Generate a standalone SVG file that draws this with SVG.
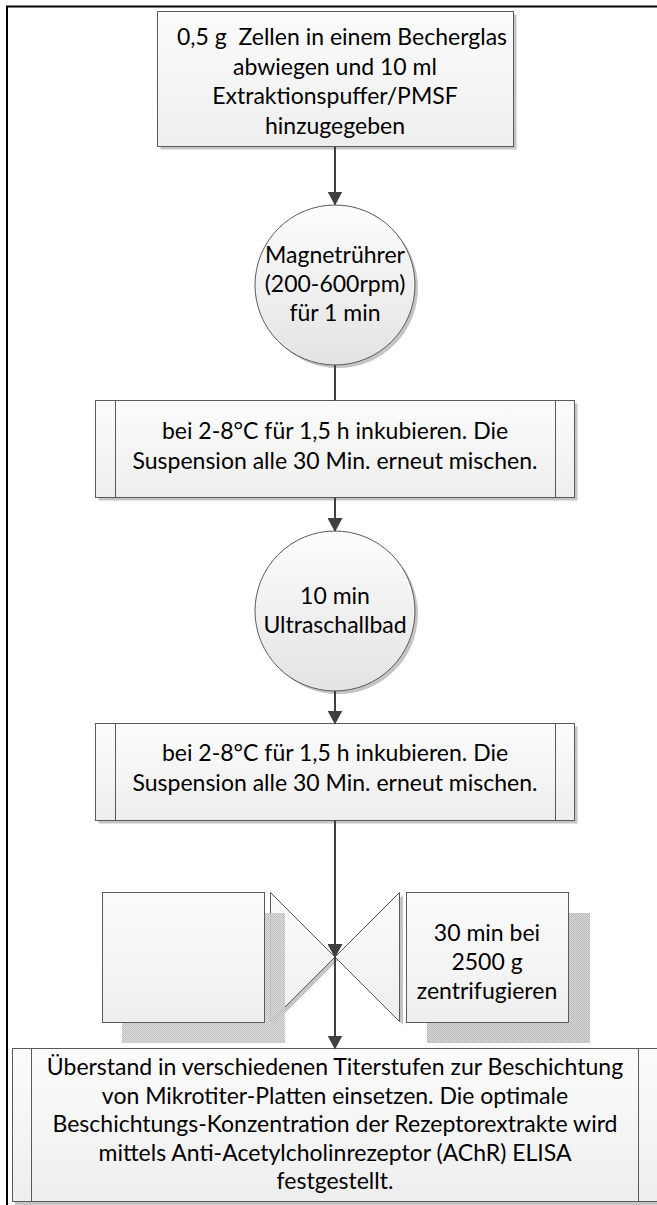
<svg xmlns="http://www.w3.org/2000/svg" width="657" height="1205" viewBox="0 0 657 1205">
<style>
.t{font-family:Lato,"Noto Sans","Liberation Sans",sans-serif;font-size:23px;fill:#000;text-anchor:middle}
.box{fill:url(#gBox);stroke:#5a5a5a;stroke-width:1}
.circ{fill:url(#gCirc);stroke:#5a5a5a;stroke-width:1}
.sh{fill:url(#stip)}
.shs{fill:#c4c4c4}
.div{stroke:#5a5a5a;stroke-width:1;fill:none}
.conn{stroke:#404040;stroke-width:2;fill:none}
.tri{fill:url(#gBox);stroke:#5a5a5a;stroke-width:1}
</style>
<defs>
<linearGradient id="gBox" x1="0" y1="0" x2="0" y2="1"><stop offset="0" stop-color="#fcfcfc"/><stop offset="1" stop-color="#eeeeee"/></linearGradient>
<linearGradient id="gCirc" x1="0" y1="0" x2="0" y2="1"><stop offset="0" stop-color="#fdfdfd"/><stop offset="1" stop-color="#e3e3e3"/></linearGradient>
<pattern id="stip" width="2" height="2" patternUnits="userSpaceOnUse"><rect width="2" height="2" fill="#dadada"/><rect width="1" height="1" fill="#b8b8b8"/><rect x="1" y="1" width="1" height="1" fill="#b8b8b8"/></pattern>
<marker id="arr" markerUnits="userSpaceOnUse" markerWidth="15" markerHeight="15" viewBox="0 0 15 15" refX="13" refY="7.5" orient="auto"><path d="M0,0 L14,7.5 L0,15 Z" fill="#404040"/></marker>
</defs>
<path d="M7,1205 V6.5 H657" stroke="#000" stroke-width="2" fill="none"/>

<g id="start">
<rect class="shs" x="160.5" y="14.5" width="356" height="135"/>
<rect class="box" x="157.5" y="11.5" width="356" height="135"/>
<text class="t" x="342" y="45">0,5 g&#160; Zellen in einem Becherglas</text>
<text class="t" x="335" y="75">abwiegen und 10 ml</text>
<text class="t" x="335" y="104">Extraktionspuffer/PMSF</text>
<text class="t" x="335" y="134">hinzugegeben</text>
</g>

<g id="stir">
<circle class="shs" cx="338" cy="288" r="80"/>
<circle class="circ" cx="335" cy="285" r="80"/>
<text class="t" x="335" y="263">Magnetrührer</text>
<text class="t" x="335" y="292">(200-600rpm)</text>
<text class="t" x="335" y="321">für 1 min</text>
</g>

<g id="incubate1">
<rect class="shs" x="98.5" y="403.5" width="479" height="97"/>
<rect class="box" x="95.5" y="400.5" width="479" height="97"/>
<path class="div" d="M115.5,400.5 V497.5 M555.5,400.5 V497.5"/>
<text class="t" x="335" y="439">bei 2-8°C für 1,5 h inkubieren. Die</text>
<text class="t" x="335" y="469">Suspension alle 30 Min. erneut mischen.</text>
</g>

<g id="ultrasound">
<circle class="shs" cx="338" cy="614" r="80"/>
<circle class="circ" cx="335" cy="611" r="80"/>
<text class="t" x="335" y="604">10 min</text>
<text class="t" x="335" y="633">Ultraschallbad</text>
</g>

<g id="incubate2">
<rect class="shs" x="98.5" y="726.5" width="479" height="97"/>
<rect class="box" x="95.5" y="723.5" width="479" height="97"/>
<path class="div" d="M115.5,723.5 V820.5 M555.5,723.5 V820.5"/>
<text class="t" x="335" y="761">bei 2-8°C für 1,5 h inkubieren. Die</text>
<text class="t" x="335" y="791">Suspension alle 30 Min. erneut mischen.</text>
</g>

<g id="collate">
<path class="shs" d="M273,895 L338,960 L273,1025 Z M403,895 L338,960 L403,1025 Z"/>
<path class="tri" d="M270.5,892.5 L335,957 L270.5,1021.5 Z"/>
<path class="tri" d="M399.5,892.5 L335,957 L399.5,1021.5 Z"/>
</g>

<g id="blank-box">
<rect class="sh" x="122" y="913" width="163" height="130" opacity="0.9"/>
<rect class="box" x="102.5" y="892.5" width="162" height="130"/>
</g>

<g id="centrifuge">
<rect class="sh" x="427" y="913" width="163" height="130"/>
<rect class="box" x="406.5" y="892.5" width="162" height="130"/>
<text class="t" x="487" y="941">30 min bei</text>
<text class="t" x="487" y="970">2500 g</text>
<text class="t" x="487" y="999">zentrifugieren</text>
</g>

<g id="coating">
<rect class="shs" x="15" y="1051" width="646" height="154"/>
<rect class="box" x="12.5" y="1048.5" width="646" height="153"/>
<path class="div" d="M31.5,1048.5 V1201.5 M638.5,1048.5 V1201.5"/>
<text class="t" x="335" y="1075">Überstand in verschiedenen Titerstufen zur Beschichtung</text>
<text class="t" x="335" y="1103.5">von Mikrotiter-Platten einsetzen. Die optimale</text>
<text class="t" x="335" y="1132">Beschichtungs-Konzentration der Rezeptorextrakte wird</text>
<text class="t" x="335" y="1160.5">mittels Anti-Acetylcholinrezeptor (AChR) ELISA</text>
<text class="t" x="335" y="1189">festgestellt.</text>
</g>

<g id="connectors">
<path class="conn" d="M335,146.5 V204.5" marker-end="url(#arr)"/>
<path class="conn" d="M335,365 V400.5"/>
<path class="conn" d="M335,497.5 V531" marker-end="url(#arr)"/>
<path class="conn" d="M335,691 V723.5" marker-end="url(#arr)"/>
<path class="conn" d="M335,820.5 V957" marker-end="url(#arr)"/>
<path class="conn" d="M335,957 V1048.5" marker-end="url(#arr)"/>
</g>
</svg>
